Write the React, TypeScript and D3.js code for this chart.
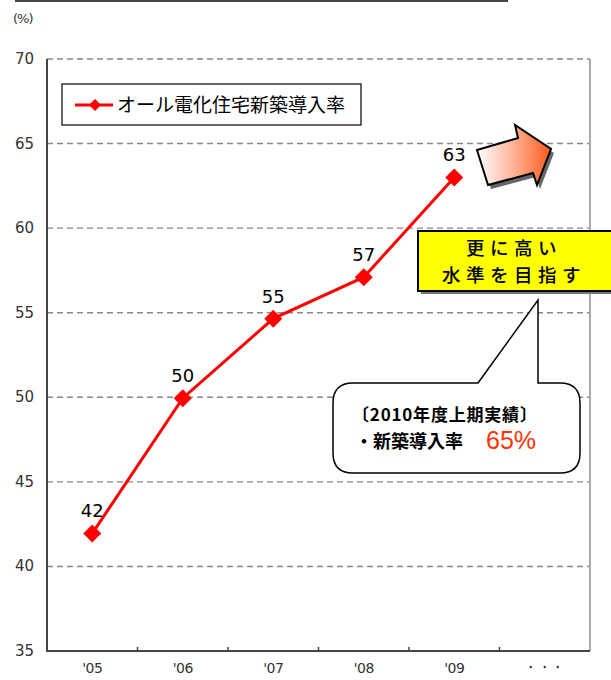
import React from "react";
import * as d3 from "d3";

const categories = ["'05", "'06", "'07", "'08", "'09", "・・・"];
const seriesName = "オール電化住宅新築導入率";
const values = [41.95, 49.95, 54.65, 57.1, 63.0];
const valueLabels = ["42", "50", "55", "57", "63"];
const yTicks = [35, 40, 45, 50, 55, 60, 65, 70];
const gridTicks = [40, 45, 50, 55, 60, 65, 70];
const goalLines = ["更に高い", "水準を目指す"];
const calloutTitle = "〔2010年度上期実績〕";
const calloutItem = "・新築導入率";
const calloutValue = "65%";

const W = 611;
const H = 680;
const left = 47, right = 590, top = 59, bottom = 651;

export default function App() {
  const x = d3.scaleBand<string>().domain(categories).range([left, right]).padding(0);
  const y = d3.scaleLinear().domain([35, 70]).range([bottom, top]);
  const cx = (i: number) => (x(categories[i]) as number) + x.bandwidth() / 2;

  const line = d3
    .line<number>()
    .x((_, i) => cx(i))
    .y((d) => y(d));

  const diamond = (px: number, py: number, r: number) =>
    `M${px},${py - r}L${px + r},${py}L${px},${py + r}L${px - r},${py}Z`;

  const arrowPts: [number, number][] = [
    [477, 150], [518, 138], [515, 125], [551, 149], [537, 185], [533, 173], [488, 185],
  ];
  const arrowPath = "M" + arrowPts.map((p) => p.join(",")).join("L") + "Z";
  const arrowShadow = "M" + arrowPts.map((p) => [p[0] + 3, p[1] + 4].join(",")).join("L") + "Z";

  const callout =
    "M478,383 L538,300 L538,383 L560,383 Q580,383 580,403 L580,453 Q580,473 560,473 L353,473 Q333,473 333,453 L333,403 Q333,383 353,383 Z";

  const jp = "'Noto Sans CJK JP', sans-serif";
  const num = "'DejaVu Sans', sans-serif";

  return (
    <svg width={W} height={H} style={{ position: "absolute", left: 0, top: 0, background: "#fff" }}>
      <defs>
        <linearGradient id="arrowGrad" x1="0" y1="0" x2="1" y2="0">
          <stop offset="0" stopColor="#ffffff" />
          <stop offset="0.45" stopColor="#ffb9a0" />
          <stop offset="1" stopColor="#ff5a1e" />
        </linearGradient>
      </defs>

      {/* top rule */}
      <line x1={15} x2={508} y1={1} y2={1} stroke="#444" strokeWidth={2} />
      <text x={13} y={23} fontSize={13} fontFamily={num} fill="#333" letterSpacing={-1}>(%)</text>

      {/* gridlines */}
      {gridTicks.map((t) => (
        <line key={t} x1={left} x2={right} y1={y(t)} y2={y(t)} stroke="#888" strokeWidth={1.4} strokeDasharray="6,4" />
      ))}
      {/* right border */}
      <line x1={right} x2={right} y1={top} y2={bottom} stroke="#aaa" strokeWidth={2} />
      {/* axes */}
      <line x1={left} x2={left} y1={top} y2={bottom + 1} stroke="#444" strokeWidth={2} />
      <line x1={left} x2={right} y1={bottom} y2={bottom} stroke="#444" strokeWidth={2} />
      {categories.slice(1).map((c) => (
        <line key={c} x1={x(c) as number} x2={x(c) as number} y1={bottom} y2={bottom - 4} stroke="#444" strokeWidth={1.5} />
      ))}

      {/* y tick labels */}
      {yTicks.map((t) => (
        <text key={t} x={34} y={y(t) + 5} textAnchor="end" fontSize={15} fontFamily={num} fill="#333">{t}</text>
      ))}
      {/* x labels */}
      {categories.map((c, i) =>
        i < 5 ? (
          <text key={c} x={cx(i)} y={673} textAnchor="middle" fontSize={14} fontFamily={num} fill="#333" letterSpacing={-0.5}>{c}</text>
        ) : (
          <g key={c}>
            {[-14, 0, 13].map((dx) => (
              <circle key={dx} cx={cx(i) + dx} cy={667} r={1.2} fill="#333" />
            ))}
          </g>
        )
      )}

      {/* series */}
      <path d={line(values) as string} fill="none" stroke="#ff0000" strokeWidth={3} />
      {values.map((v, i) => (
        <path key={i} d={diamond(cx(i), y(v), 9)} fill="#ff0000" />
      ))}
      {values.map((v, i) => (
        <text key={i} x={cx(i)} y={y(v) - 16} textAnchor="middle" fontSize={18} fontFamily={num} fill="#000">{valueLabels[i]}</text>
      ))}

      {/* legend */}
      <rect x={62} y={84} width={299} height={41} fill="#fff" stroke="#000" strokeWidth={1.2} />
      <line x1={75} x2={113} y1={105} y2={105} stroke="#ff0000" strokeWidth={3} />
      <path d={diamond(95, 105, 6)} fill="#ff0000" />
      <text x={117} y={112} fontSize={19} fontFamily={jp} fill="#000">{seriesName}</text>

      {/* arrow */}
      <path d={arrowShadow} fill="#666" />
      <path d={arrowPath} fill="url(#arrowGrad)" stroke="#000" strokeWidth={2} strokeLinejoin="miter" />

      {/* yellow box */}
      <rect x={421} y={234} width={200} height={60} fill="#777" />
      <rect x={418} y={231} width={200} height={60} fill="#ffff00" stroke="#000" strokeWidth={2} />
      {goalLines.map((s, i) => (
        <text key={s} x={514} y={255 + i * 27} textAnchor="middle" fontSize={18.5} fontWeight={500} letterSpacing={5.5} fontFamily={jp} fill="#000">{s}</text>
      ))}

      {/* callout */}
      <path d={callout} fill="#fff" stroke="#000" strokeWidth={1.5} />
      <text x={352} y={421} fontSize={17} fontWeight={700} letterSpacing={0.8} fontFamily={jp} fill="#000">{calloutTitle}</text>
      <text x={355} y={448} fontSize={18} fontWeight={700} fontFamily={jp} fill="#000">{calloutItem}</text>
      <text x={486} y={449} fontSize={25} fontFamily="'Liberation Sans', sans-serif" fill="#ff3300">{calloutValue}</text>
    </svg>
  );
}
